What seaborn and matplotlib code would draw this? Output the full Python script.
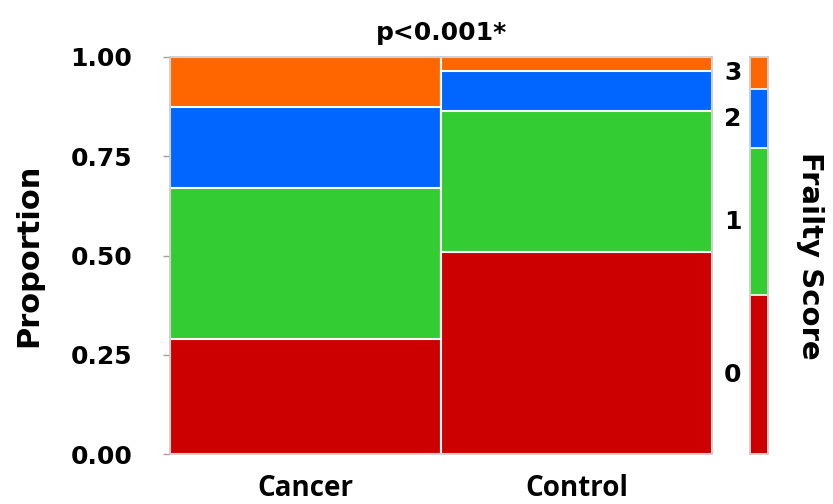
import matplotlib
matplotlib.use("Agg")
import matplotlib.pyplot as plt
import numpy as np
import pandas as pd
import seaborn as sns

# data
groups = ["Cancer", "Control"]
scores = ["0", "1", "2", "3"]
cancer_props = [0.29, 0.38, 0.205, 0.125]
control_props = [0.51, 0.355, 0.10, 0.035]
overall_props = [0.40, 0.37, 0.15, 0.08]
score_colors = ["#CC0000", "#33CC33", "#0066FF", "#FF6600"]

y_ticks = [0.0, 0.25, 0.50, 0.75, 1.00]
title = "p<0.001*"


def main() -> None:
    sns.set_style("white")
    plt.rcParams["font.family"] = ["DejaVu Sans"]
    plt.rcParams["text.color"] = "black"
    plt.rcParams["axes.labelcolor"] = "black"
    plt.rcParams["xtick.color"] = "black"
    plt.rcParams["ytick.color"] = "black"

    rows = []
    for g, props in zip(groups, [cancer_props, control_props]):
        cum = np.cumsum(props)
        for s, p, c in zip(scores, props, cum):
            rows.append({"group": g, "score": s, "prop": p, "cum": c})
    df = pd.DataFrame(rows)

    marg = pd.DataFrame({"group": ["All"] * len(scores), "score": scores,
                         "prop": overall_props, "cum": np.cumsum(overall_props)})

    fig = plt.figure(figsize=(8.33, 5.04), dpi=100)
    ax = fig.add_axes([0.204, 0.099, 0.651, 0.788])
    ax_m = fig.add_axes([0.900, 0.099, 0.022, 0.788])

    # stacked cells: draw highest score first (full height), then cover downward
    for s, col in reversed(list(zip(scores, score_colors))):
        sub = df[df["score"] == s]
        sns.barplot(data=sub, x="group", y="cum", order=groups, color=col,
                    width=1, errorbar=None, edgecolor="white", linewidth=1.5,
                    saturation=1, ax=ax)
        sub_m = marg[marg["score"] == s]
        sns.barplot(data=sub_m, x="group", y="cum", color=col, width=1,
                    errorbar=None, edgecolor="white", linewidth=1.2,
                    saturation=1, ax=ax_m)

    ax.set_xlim(-0.5, 1.5)
    ax.set_ylim(0, 1)
    ax.set_yticks(y_ticks)
    ax.set_yticklabels([f"{t:.2f}" for t in y_ticks], fontsize=18, fontweight="bold")
    ax.set_xticks(range(len(groups)))
    ax.set_xticklabels(groups, fontsize=20, fontweight="bold", family="Open Sans")
    ax.tick_params(axis="x", length=0, pad=14)
    ax.tick_params(axis="y", length=5, width=1, color="#a0a0a0", pad=22, left=True)
    ax.set_xlabel("")
    ax.set_ylabel("Proportion", fontsize=22, fontweight="bold", labelpad=20)
    ax.set_title(title, fontsize=18, fontweight="bold", pad=12)
    for sp in ax.spines.values():
        sp.set_color("#c8c8c8")
        sp.set_linewidth(1.2)

    # score labels at the middle of the marginal segments
    mids = np.cumsum(overall_props) - np.array(overall_props) / 2
    for s, m in zip(scores, mids):
        ax.text(1.038, m, s, transform=ax.get_yaxis_transform(), ha="center",
                va="center", fontsize=18, fontweight="bold")

    ax_m.set_xlim(-0.5, 0.5)
    ax_m.set_ylim(0, 1)
    ax_m.set_xticks([])
    ax_m.set_yticks([])
    ax_m.set_xlabel("")
    ax_m.set_ylabel("Frailty Score", fontsize=21, fontweight="bold",
                    rotation=270, labelpad=40)
    ax_m.yaxis.set_label_position("right")
    for sp in ax_m.spines.values():
        sp.set_color("#c8c8c8")
        sp.set_linewidth(1.2)

    fig.savefig("out.png", dpi=100)
    plt.close(fig)


if __name__ == "__main__":
    main()
